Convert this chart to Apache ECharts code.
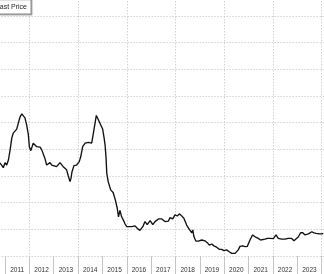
<!DOCTYPE html>
<html>
<head>
<meta charset="utf-8">
<script src="https://cdn.jsdelivr.net/npm/echarts@6/dist/echarts.min.js"></script>
<style>
html,body{margin:0;padding:0;background:#fff;overflow:hidden;width:324px;height:274px;position:relative;}
#chart{position:absolute;left:-20px;top:-11px;width:370px;height:285px;}
</style>
</head>
<body>
<div id="chart"></div>
<script>
// Decimal-year dates of the traced points
var dates = [2010.79,2010.86,2010.93,2011.00,2011.07,2011.14,2011.21,2011.28,2011.34,2011.41,2011.48,2011.55,2011.62,2011.69,2011.75,2011.82,2011.89,2011.96,2012.00,2012.06,2012.12,2012.16,2012.23,2012.30,2012.37,2012.44,2012.51,2012.57,2012.64,2012.71,2012.78,2012.85,2012.92,2012.98,2013.12,2013.19,2013.26,2013.33,2013.39,2013.46,2013.53,2013.60,2013.67,2013.71,2013.75,2013.83,2013.94,2014.05,2014.11,2014.19,2014.29,2014.42,2014.56,2014.63,2014.70,2014.75,2014.82,2014.90,2014.97,2015.01,2015.07,2015.11,2015.15,2015.18,2015.24,2015.34,2015.39,2015.44,2015.52,2015.61,2015.66,2015.72,2015.79,2015.83,2015.89,2015.93,2016.00,2016.06,2016.20,2016.34,2016.43,2016.54,2016.66,2016.75,2016.84,2016.96,2017.07,2017.16,2017.30,2017.44,2017.57,2017.71,2017.78,2017.89,2017.98,2018.08,2018.16,2018.26,2018.35,2018.46,2018.57,2018.62,2018.67,2018.71,2018.76,2018.84,2018.94,2019.08,2019.21,2019.31,2019.39,2019.49,2019.58,2019.69,2019.80,2019.90,2019.99,2020.10,2020.21,2020.31,2020.38,2020.45,2020.52,2020.58,2020.65,2020.76,2020.86,2020.95,2020.99,2021.06,2021.17,2021.27,2021.40,2021.50,2021.58,2021.68,2021.77,2021.88,2022.02,2022.13,2022.22,2022.36,2022.50,2022.63,2022.77,2022.87,2022.95,2023.05,2023.14,2023.23,2023.32,2023.39,2023.46,2023.60,2023.69,2023.78,2023.91,2024.01,2024.07];
// Last Price values (axis units; unlabeled in the reference)
var lastPrice = [34.9,34.1,33.1,35.0,34.1,36.0,39.8,44.3,46.1,46.6,47.6,49.9,52.2,53.3,53.5,51.8,49.1,45.4,41.0,39.5,39.8,42.3,42.5,41.0,41.3,40.8,39.8,39.1,36.6,34.1,33.5,35.0,34.1,33.5,33.5,34.1,35.0,34.5,33.5,32.9,32.3,30.0,27.9,29.1,31.5,33.9,34.1,35.4,37.2,41.0,42.3,42.6,42.3,46.1,49.9,52.7,51.4,49.8,48.4,47.6,44.3,41.6,36.8,31.0,27.8,24.8,25.0,23.8,21.4,17.9,14.7,17.1,14.7,14.1,12.9,12.0,11.0,11.0,11.0,11.3,10.4,9.6,11.0,12.9,11.8,13.3,11.8,12.9,13.9,13.9,12.9,13.1,14.4,13.9,15.4,15.0,15.8,15.0,14.1,11.6,10.0,10.5,8.7,9.8,7.2,5.6,5.6,6.0,5.7,5.0,4.1,4.5,3.8,3.3,2.5,2.5,2.0,2.3,1.6,1.0,1.2,1.0,1.2,2.3,3.6,3.8,3.5,3.6,4.1,6.0,7.9,7.2,6.6,6.0,6.6,6.3,6.6,6.6,6.5,7.9,6.6,6.3,6.3,6.6,6.6,5.7,5.4,7.2,8.7,8.7,7.9,7.2,8.3,9.1,8.7,8.5,8.3,8.3,8.5];
// Year band labels
var yearLabels = ['2010','2011','2012','2013','2014','2015','2016','2017','2018','2019','2020','2021','2022','2023','2024'];
var legendText = 'Last Price';

var seriesData = dates.map(function (d, i) { return [d, lastPrice[i]]; });

var chart = echarts.init(document.getElementById('chart'), null, {renderer: 'canvas', width: 370, height: 285});
var dotted = {color: '#bdbdbd', width: 1, type: [1, 2]};
chart.setOption({
  animation: false,
  backgroundColor: '#ffffff',
  grid: {left: 0.65, right: 4.1, top: 0.33, bottom: 18, containLabel: false},
  xAxis: [
    {
      type: 'value', min: 2010, max: 2025, interval: 2,
      axisLine: {show: false}, axisTick: {show: false}, axisLabel: {show: false},
      splitLine: {show: true, lineStyle: dotted}
    },
    {
      type: 'category', data: yearLabels, position: 'bottom', boundaryGap: true,
      axisLine: {show: false},
      axisTick: {show: true, interval: 0, length: 18, lineStyle: {color: '#c4c4c4', width: 1}},
      axisLabel: {show: true, interval: 0, margin: 10.5, fontSize: 6.5, color: '#333',
                  fontFamily: 'Liberation Sans'},
      splitLine: {show: false}
    }
  ],
  yAxis: {
    type: 'value', min: 0, max: 100, interval: 10,
    axisLine: {show: false}, axisTick: {show: false}, axisLabel: {show: false},
    splitLine: {show: true, lineStyle: dotted}
  },
  series: [{
    type: 'line', name: legendText, xAxisIndex: 0, data: seriesData,
    showSymbol: false, symbol: 'none',
    lineStyle: {color: '#111111', width: 1.35}
  }],
  graphic: [
    {type: 'rect', shape: {x: 14, y: 10, width: 37, height: 15},
     style: {fill: '#fff', stroke: '#8a8a8a', lineWidth: 1,
             shadowColor: 'rgba(0,0,0,0.25)', shadowOffsetX: 1, shadowOffsetY: 1, shadowBlur: 1}, z: 100},
    {type: 'text', x: 47, y: 18,
     style: {text: legendText, textAlign: 'right', textVerticalAlign: 'middle',
             font: '7px "Liberation Sans"', fill: '#222'}, z: 101}
  ]
});
</script>
</body>
</html>
